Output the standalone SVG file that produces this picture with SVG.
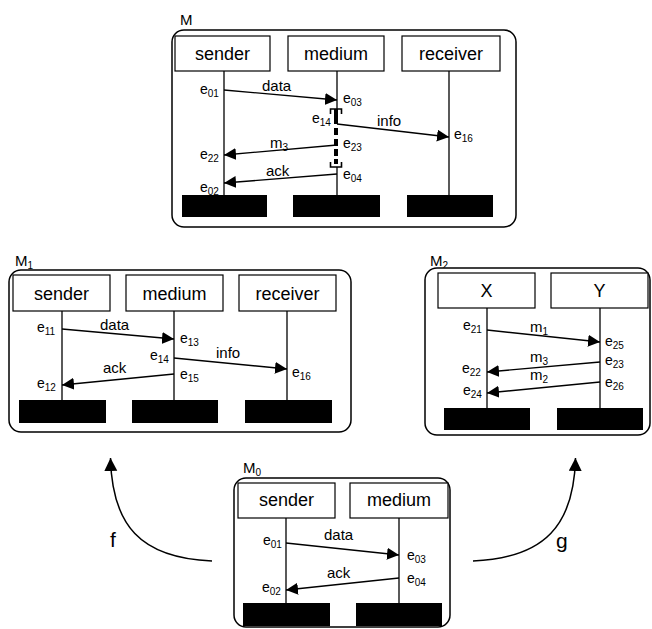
<svg xmlns="http://www.w3.org/2000/svg" width="652" height="629" viewBox="0 0 652 629">
<style>
text{font-family:"Liberation Sans",Arial,sans-serif;fill:#000}
.frame{fill:#fff;stroke:#000;stroke-width:1.5}
.box{fill:#fff;stroke:#000;stroke-width:1.2}
.blk{fill:#000}
.life{stroke:#000;stroke-width:1.3}
.msg{stroke:#000;stroke-width:1.4;fill:none;marker-end:url(#ah)}
.nm{font-size:18px;text-anchor:middle}
.ttl{font-size:15px}
.ev{font-size:14px}
.ml{font-size:15px}
.sub{font-size:10px}
.big{font-size:21px}
</style>
<defs>
<marker id="ah" markerUnits="userSpaceOnUse" markerWidth="13" markerHeight="13" refX="12" refY="6" orient="auto">
<path d="M0,0 L12,6 L0,12 Z" fill="#000"/>
</marker>
<marker id="ah2" markerUnits="userSpaceOnUse" markerWidth="14" markerHeight="14" refX="13" refY="6.5" orient="auto">
<path d="M0,0 L13,6.5 L0,13 Z" fill="#000"/>
</marker>
</defs>

<g id="M">
<text class="ttl" x="180" y="25">M</text>
<rect class="frame" x="172" y="30" width="344" height="197" rx="12"/>
<rect class="box" x="175" y="36" width="95" height="35"/>
<text class="nm" x="222.5" y="60">sender</text>
<rect class="box" x="288" y="36" width="96" height="35"/>
<text class="nm" x="336" y="60">medium</text>
<rect class="box" x="402" y="36" width="98" height="35"/>
<text class="nm" x="451" y="60">receiver</text>
<line class="life" x1="224" y1="71" x2="224" y2="195"/>
<line class="life" x1="337" y1="71" x2="337" y2="109"/>
<line class="life" x1="337" y1="167" x2="337" y2="195"/>
<line class="life" x1="449" y1="71" x2="449" y2="195"/>
<rect class="blk" x="182" y="195" width="85" height="22"/>
<rect class="blk" x="293" y="195" width="87" height="22"/>
<rect class="blk" x="407" y="195" width="86" height="22"/>
<line x1="336" y1="109" x2="336" y2="124" stroke="#000" stroke-width="4"/>
<line x1="336" y1="124" x2="336" y2="164" stroke="#000" stroke-width="4" stroke-dasharray="0 4 7 4 7 3 7 3 7"/>
<path d="M330.5,114 V109 H341.5 V114" fill="none" stroke="#000" stroke-width="1.6"/>
<path d="M330.5,162 V167 H341.5 V162" fill="none" stroke="#000" stroke-width="1.6"/>
<text class="ev" x="200" y="94">e<tspan class="sub" dy="3">01</tspan></text>
<text class="ml" x="262" y="91">data</text>
<text class="ev" x="343" y="103">e<tspan class="sub" dy="3">03</tspan></text>
<text class="ev" x="312" y="123">e<tspan class="sub" dy="3">14</tspan></text>
<text class="ml" x="377" y="126">info</text>
<text class="ev" x="454" y="139">e<tspan class="sub" dy="3">16</tspan></text>
<text class="ml" x="270" y="148">m<tspan class="sub" dy="3">3</tspan></text>
<text class="ev" x="343" y="148">e<tspan class="sub" dy="3">23</tspan></text>
<text class="ev" x="200" y="159">e<tspan class="sub" dy="3">22</tspan></text>
<text class="ml" x="266" y="176">ack</text>
<text class="ev" x="343" y="179">e<tspan class="sub" dy="3">04</tspan></text>
<text class="ev" x="200" y="192">e<tspan class="sub" dy="3">02</tspan></text>
</g>

<g id="M1">
<text class="ttl" x="15" y="266">M<tspan class="sub" dy="3">1</tspan></text>
<rect class="frame" x="9" y="270" width="342" height="162" rx="12"/>
<rect class="box" x="13" y="275" width="97" height="36"/>
<text class="nm" x="61.5" y="300">sender</text>
<rect class="box" x="126" y="275" width="97" height="36"/>
<text class="nm" x="174.5" y="300">medium</text>
<rect class="box" x="239" y="275" width="97" height="36"/>
<text class="nm" x="287.5" y="300">receiver</text>
<line class="life" x1="62" y1="311" x2="62" y2="400"/>
<line class="life" x1="174" y1="311" x2="174" y2="400"/>
<line class="life" x1="287" y1="311" x2="287" y2="400"/>
<rect class="blk" x="19" y="400" width="87" height="23"/>
<rect class="blk" x="132" y="400" width="86" height="23"/>
<rect class="blk" x="245" y="400" width="87" height="23"/>
<text class="ev" x="37" y="332">e<tspan class="sub" dy="3">11</tspan></text>
<text class="ml" x="100" y="330">data</text>
<text class="ev" x="180" y="343">e<tspan class="sub" dy="3">13</tspan></text>
<text class="ev" x="150" y="360">e<tspan class="sub" dy="3">14</tspan></text>
<text class="ml" x="216" y="358">info</text>
<text class="ev" x="180" y="379">e<tspan class="sub" dy="3">15</tspan></text>
<text class="ml" x="103" y="373">ack</text>
<text class="ev" x="37" y="388">e<tspan class="sub" dy="3">12</tspan></text>
<text class="ev" x="292" y="377">e<tspan class="sub" dy="3">16</tspan></text>
</g>

<g id="M2">
<text class="ttl" x="430" y="266">M<tspan class="sub" dy="3">2</tspan></text>
<rect class="frame" x="425" y="268" width="225" height="167" rx="12"/>
<rect class="box" x="438" y="273" width="97" height="35"/>
<text class="nm" x="486.5" y="297">X</text>
<rect class="box" x="551" y="273" width="97" height="35"/>
<text class="nm" x="599.5" y="297">Y</text>
<line class="life" x1="487" y1="308" x2="487" y2="408"/>
<line class="life" x1="600" y1="308" x2="600" y2="408"/>
<rect class="blk" x="444" y="408" width="86" height="22"/>
<rect class="blk" x="557" y="408" width="86" height="22"/>
<text class="ev" x="463" y="330">e<tspan class="sub" dy="3">21</tspan></text>
<text class="ml" x="530" y="332">m<tspan class="sub" dy="3">1</tspan></text>
<text class="ev" x="605" y="346">e<tspan class="sub" dy="3">25</tspan></text>
<text class="ml" x="530" y="362">m<tspan class="sub" dy="3">3</tspan></text>
<text class="ev" x="605" y="365">e<tspan class="sub" dy="3">23</tspan></text>
<text class="ev" x="462" y="373">e<tspan class="sub" dy="3">22</tspan></text>
<text class="ml" x="530" y="380">m<tspan class="sub" dy="3">2</tspan></text>
<text class="ev" x="605" y="387">e<tspan class="sub" dy="3">26</tspan></text>
<text class="ev" x="463" y="395">e<tspan class="sub" dy="3">24</tspan></text>
</g>

<g id="M0">
<text class="ttl" x="243" y="473">M<tspan class="sub" dy="3">0</tspan></text>
<rect class="frame" x="234" y="478" width="216" height="149" rx="12"/>
<rect class="box" x="238" y="483" width="97" height="35"/>
<text class="nm" x="286.5" y="506">sender</text>
<rect class="box" x="350" y="483" width="98" height="35"/>
<text class="nm" x="399" y="506">medium</text>
<line class="life" x1="286" y1="518" x2="286" y2="603"/>
<line class="life" x1="399" y1="518" x2="399" y2="603"/>
<rect class="blk" x="243" y="603" width="87" height="23"/>
<rect class="blk" x="356" y="603" width="86" height="23"/>
<text class="ev" x="263" y="545">e<tspan class="sub" dy="3">01</tspan></text>
<text class="ml" x="324" y="540">data</text>
<text class="ev" x="407" y="560">e<tspan class="sub" dy="3">03</tspan></text>
<text class="ml" x="327" y="578">ack</text>
<text class="ev" x="407" y="583">e<tspan class="sub" dy="3">04</tspan></text>
<text class="ev" x="262" y="592">e<tspan class="sub" dy="3">02</tspan></text>
</g>

<g id="connectors">
<line class="msg" x1="224" y1="90" x2="337" y2="100"/>
<line class="msg" x1="337" y1="124" x2="449" y2="137"/>
<line class="msg" x1="337" y1="145" x2="224" y2="155"/>
<line class="msg" x1="337" y1="174" x2="224" y2="183"/>
<line class="msg" x1="62" y1="329" x2="174" y2="339"/>
<line class="msg" x1="174" y1="358" x2="287" y2="369"/>
<line class="msg" x1="174" y1="374" x2="62" y2="385"/>
<line class="msg" x1="487" y1="330" x2="600" y2="342"/>
<line class="msg" x1="600" y1="362" x2="487" y2="372"/>
<line class="msg" x1="600" y1="382" x2="487" y2="393"/>
<line class="msg" x1="286" y1="543" x2="399" y2="555"/>
<line class="msg" x1="399" y1="578" x2="286" y2="590"/>
<path d="M212,561 C140,558 112,525 110.5,458" fill="none" stroke="#000" stroke-width="1.5" marker-end="url(#ah2)"/>
<path d="M473,561 C545,558 574,525 575.5,458" fill="none" stroke="#000" stroke-width="1.5" marker-end="url(#ah2)"/>
<text class="big" x="110" y="547">f</text>
<text class="big" x="556" y="548">g</text>
</g>
</svg>
